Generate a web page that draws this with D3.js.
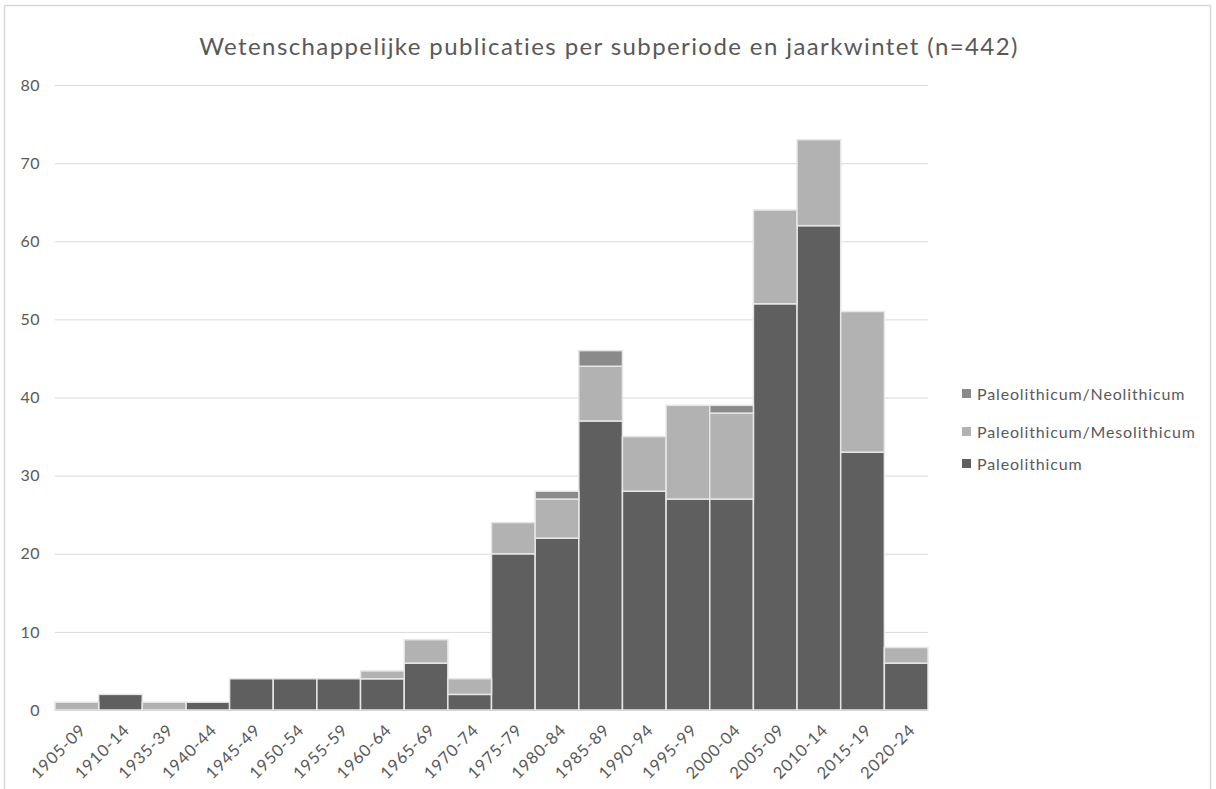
<!DOCTYPE html>
<html><head><meta charset="utf-8">
<script src="https://cdn.jsdelivr.net/npm/d3@7"></script>
<style>body{margin:0;background:#fff;font-family:Lato,"Open Sans",sans-serif;}</style>
</head><body><svg id="c" width="1216" height="789"></svg>
<script>
const categories = ["1905-09","1910-14","1935-39","1940-44","1945-49","1950-54","1955-59","1960-64","1965-69","1970-74","1975-79","1980-84","1985-89","1990-94","1995-99","2000-04","2005-09","2010-14","2015-19","2020-24"];
const paleolithicum = [0,2,0,1,4,4,4,4,6,2,20,22,37,28,27,27,52,62,33,6];
const paleoMeso = [1,0,1,0,0,0,0,1,3,2,4,5,7,7,12,11,12,11,18,2];
const paleoNeo = [0,0,0,0,0,0,0,0,0,0,0,1,2,0,0,1,0,0,0,0];
const yTicks = [0,10,20,30,40,50,60,70,80];
const seriesNames = ["Paleolithicum","Paleolithicum/Mesolithicum","Paleolithicum/Neolithicum"];
const colors = ["#5f5f5f","#b2b2b2","#8a8a8a"];

const svg = d3.select("#c");
svg.append("rect").attr("x",4.5).attr("y",5.5).attr("width",1206).attr("height",800)
  .attr("fill","none").attr("stroke","#d9d9d9").attr("stroke-width",1.5);

const m = {l:55, r:928, t:85, b:710};
const x = d3.scaleBand().domain(categories).range([m.l,m.r]).padding(0);
const y = d3.scaleLinear().domain([0,80]).range([m.b,m.t]);

svg.append("text").attr("x",609).attr("y",55).attr("text-anchor","middle")
  .attr("font-size",24).attr("letter-spacing",1.4).attr("fill","#595959").text("Wetenschappelijke publicaties per subperiode en jaarkwintet (n=442)");

const g = svg.append("g");
g.selectAll(".grid").data(yTicks).enter().append("line")
  .attr("x1",m.l).attr("x2",m.r).attr("y1",d=>y(d)+0.5).attr("y2",d=>y(d)+0.5)
  .attr("stroke","#d9d9d9").attr("stroke-width",1);

const yAxis = d3.axisLeft(y).tickValues(yTicks).tickSize(0).tickPadding(15);
const ya = svg.append("g").attr("transform",`translate(${m.l},0)`).call(yAxis);
ya.select(".domain").remove();
ya.selectAll("text").attr("font-size",16).attr("letter-spacing",0.5).attr("fill","#595959").attr("font-family","Lato,'Open Sans',sans-serif");

const table = categories.map((c,i)=>({cat:c, Paleolithicum:paleolithicum[i], "Paleolithicum/Mesolithicum":paleoMeso[i], "Paleolithicum/Neolithicum":paleoNeo[i]}));
const stack = d3.stack().keys(seriesNames)(table);
stack.forEach((s,si)=>{
  svg.append("g").selectAll("rect").data(s.filter(d=>d[1]>d[0])).enter().append("rect")
    .attr("x",d=>x(d.data.cat)).attr("width",x.bandwidth())
    .attr("y",d=>y(d[1])).attr("height",d=>y(d[0])-y(d[1]))
    .attr("fill",colors[si]).attr("stroke","#e6e6e6").attr("stroke-width",1.5);
});

svg.append("line").attr("x1",m.l).attr("x2",m.r).attr("y1",m.b+0.5).attr("y2",m.b+0.5).attr("stroke","#d9d9d9");

const xa = svg.append("g").attr("transform",`translate(0,${m.b})`);
xa.selectAll("text").data(categories).enter().append("text")
  .attr("transform",d=>`translate(${x(d)+x.bandwidth()/2+6},${17}) rotate(-45)`)
  .attr("text-anchor","end").attr("dy","0.35em")
  .attr("font-size",16.5).attr("letter-spacing",0.8).attr("fill","#595959").text(d=>d);

const leg = svg.append("g");
const legOrder = [2,1,0];
const legY = [394,432,464];
legOrder.forEach((si,i)=>{
  leg.append("rect").attr("x",962).attr("y",legY[i]-5).attr("width",9).attr("height",9).attr("fill",colors[si]);
  leg.append("text").attr("x",977).attr("y",legY[i]).attr("dy","0.35em").attr("font-size",16).attr("letter-spacing",0.85).attr("fill","#595959").text(seriesNames[si]);
});
</script></body></html>
